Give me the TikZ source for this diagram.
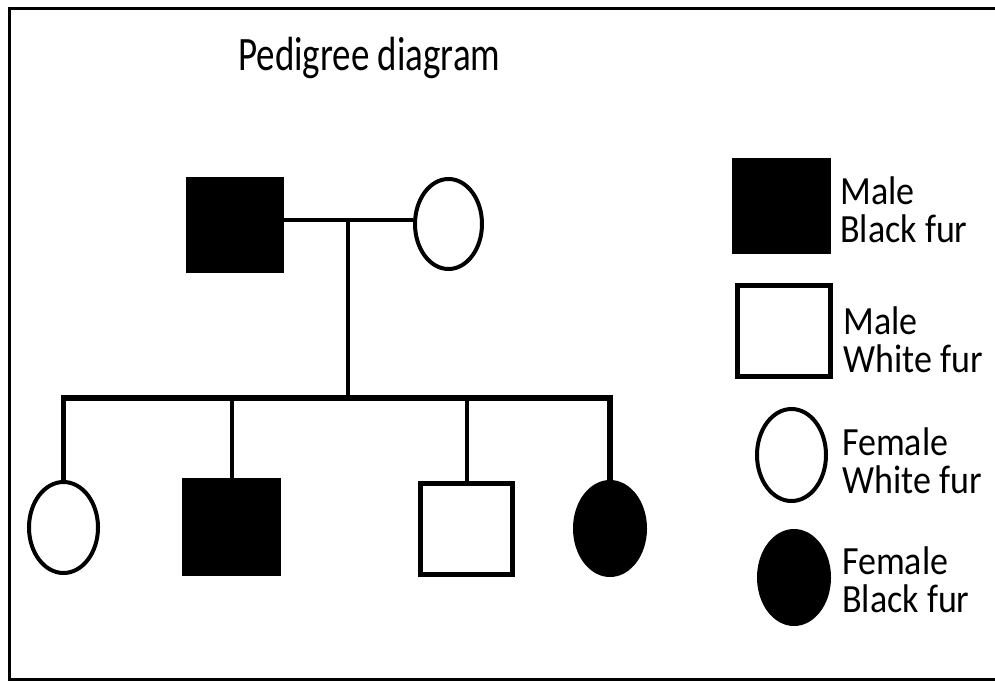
\documentclass[tikz,border=0pt]{standalone}
\usepackage{fontspec}
\setmainfont{Carlito}
\usetikzlibrary{shapes.geometric}
\begin{document}
\begin{tikzpicture}[x=0.75pt,y=-0.75pt,
  conn/.style={line width=3pt},
  sib/.style={line width=3.9pt},
  blacksq/.style={rectangle,draw=black,fill=black,line width=3pt,inner sep=0pt},
  whitesq/.style={rectangle,draw=black,fill=white,line width=3.8pt,inner sep=0pt},
  whiteel/.style={ellipse,draw=black,fill=white,line width=3pt,inner sep=0pt},
  blackel/.style={ellipse,draw=black,fill=black,line width=3pt,inner sep=0pt},
  legtext/.style={anchor=base west,align=left,inner sep=0pt,font=\fontsize{30pt}{28.5pt}\selectfont},
]
\useasboundingbox (0,0) rectangle (995,681);
\fill[white] (0,0) rectangle (995,681);
% frame (right side cut off)
\draw[line width=2.4pt] (1000,8.5) -- (9.5,8.5) -- (9.5,679.5) -- (1000,679.5);

% title
\node[anchor=base west,inner sep=0pt,font=\fontsize{36pt}{40pt}\selectfont] (title) at (238,71) {\scalebox{0.77}[1]{Pedigree diagram}};

% parents
\node[blacksq,minimum width=94*0.75pt,minimum height=92*0.75pt] (father) at (235,225) {};
\node[whiteel,minimum width=67*0.75pt,minimum height=90*0.75pt] (mother) at (448.5,224) {};
\coordinate (m) at (348,220);
\coordinate (s) at (348,398);
\draw[conn] (father.east |- m) -- (mother.west |- m);
\draw[conn] (m) -- (s);

% children
\node[whiteel,minimum width=69*0.75pt,minimum height=91*0.75pt] (c1) at (63.5,527.5) {};
\node[blacksq,minimum width=95*0.75pt,minimum height=94*0.75pt] (c2) at (231.5,527) {};
\node[whitesq,minimum width=92*0.75pt,minimum height=91*0.75pt] (c3) at (466.5,529) {};
\node[blackel,minimum width=70*0.75pt,minimum height=93*0.75pt] (c4) at (610,528.5) {};
\draw[sib] (c1.north) |- (s) -| (c4.north);
\draw[conn] (c2.north |- s) -- (c2.north);
\draw[conn] (c3.north |- s) -- (c3.north);

% legend
\node[blacksq,minimum width=95*0.75pt,minimum height=92*0.75pt] (l1) at (781.5,206) {};
\node[whitesq,minimum width=93*0.75pt,minimum height=91*0.75pt] (l2) at (784,331) {};
\node[whiteel,minimum width=69*0.75pt,minimum height=92*0.75pt] (l3) at (791.5,455) {};
\node[blackel,minimum width=70*0.75pt,minimum height=93*0.75pt] (l4) at (794,577.5) {};

\node[legtext] (t1) at (840,242) {\scalebox{0.9}[1]{Male}\\\scalebox{0.9}[1]{Black fur}};
\node[legtext] (t2) at (843,372) {\scalebox{0.9}[1]{Male}\\\scalebox{0.9}[1]{White fur}};
\node[legtext] (t3) at (842,493) {\scalebox{0.9}[1]{Female}\\\scalebox{0.9}[1]{White fur}};
\node[legtext] (t4) at (842,612) {\scalebox{0.9}[1]{Female}\\\scalebox{0.9}[1]{Black fur}};
\end{tikzpicture}
\end{document}
